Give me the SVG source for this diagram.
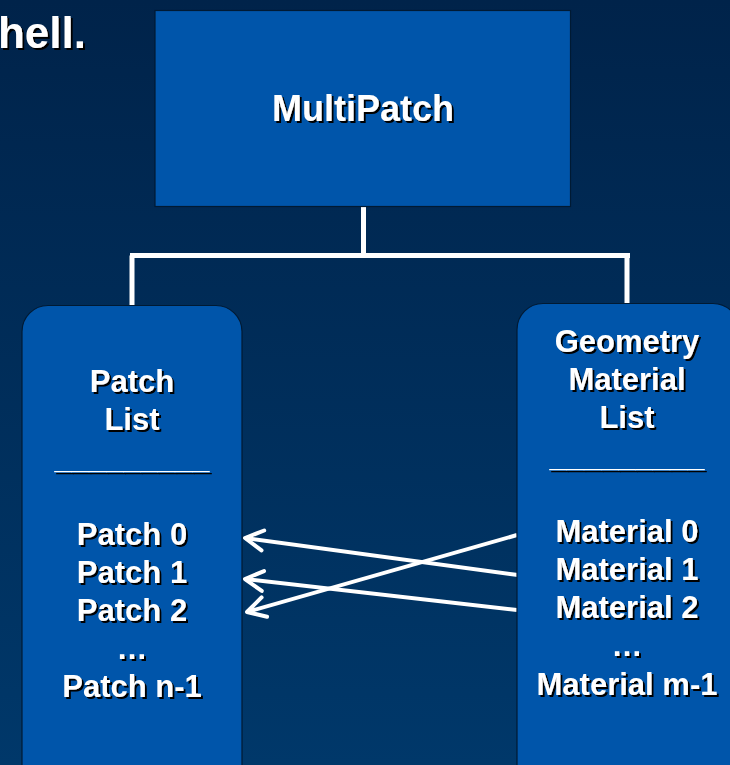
<svg xmlns="http://www.w3.org/2000/svg" width="730" height="765" viewBox="0 0 730 765">
  <defs>
    <linearGradient id="bg" x1="0" y1="0" x2="0" y2="1">
      <stop offset="0" stop-color="#00234A"/>
      <stop offset="1" stop-color="#00386A"/>
    </linearGradient>
    <filter id="sh" x="-10%" y="-10%" width="130%" height="140%">
      <feDropShadow dx="2" dy="2" stdDeviation="0" flood-color="#000" flood-opacity="1"/>
    </filter>
    <marker id="ah" markerUnits="userSpaceOnUse" markerWidth="40" markerHeight="40" viewBox="-25 -20 40 40" refX="0" refY="0" orient="auto" overflow="visible">
      <path d="M-18,-10 L0,0 L-18,10" fill="none" stroke="#fff" stroke-width="4" stroke-linecap="round" stroke-linejoin="round"/>
    </marker>
  </defs>
  <style>
    .node { fill: #0055AA; stroke: #001a33; stroke-width: 1.2; }
    .t { font-family: "Liberation Sans", Arial, sans-serif; font-weight: bold; fill: #fff; text-anchor: middle; filter: url(#sh); }
    .s31 { font-size: 31px; }
    .conn { fill: none; stroke: #fff; stroke-width: 5; }
    .arr { fill: none; stroke: #fff; stroke-width: 4; marker-end: url(#ah); }
  </style>
  <rect x="0" y="0" width="730" height="765" fill="url(#bg)"/>
  <text class="t" x="86" y="48" font-size="44" style="text-anchor:end">hell.</text>

  <g id="connectors">
    <path class="conn" d="M363.5,207 V255.5 M130,255.5 H630 M132,255.5 V306 M627,255.5 V304"/>
    <line class="arr" x1="518" y1="575" x2="245" y2="538"/>
    <line class="arr" x1="517" y1="610" x2="245" y2="579"/>
    <line class="arr" x1="517" y1="535" x2="247" y2="612"/>
  </g>

  <g id="multipatch">
    <rect class="node" x="155" y="10.5" width="415.5" height="196"/>
    <text class="t" x="363" y="121" font-size="36">MultiPatch</text>
  </g>

  <g id="patch-list">
    <rect class="node" x="22" y="305.5" width="220" height="500" rx="26" ry="26"/>
    <text class="t s31" x="132" y="392">Patch</text>
    <text class="t s31" x="132" y="430">List</text>
    <text class="t s31" x="132" y="468">_________</text>
    <text class="t s31" x="132" y="545">Patch 0</text>
    <text class="t s31" x="132" y="583">Patch 1</text>
    <text class="t s31" x="132" y="621">Patch 2</text>
    <text class="t s31" x="132" y="659">…</text>
    <text class="t s31" x="132" y="697">Patch n-1</text>
  </g>

  <g id="geometry-material-list">
    <rect class="node" x="517" y="303.5" width="222" height="500" rx="26" ry="26"/>
    <text class="t s31" x="627" y="352">Geometry</text>
    <text class="t s31" x="627" y="390">Material</text>
    <text class="t s31" x="627" y="428">List</text>
    <text class="t s31" x="627" y="466">_________</text>
    <text class="t s31" x="627" y="542">Material 0</text>
    <text class="t s31" x="627" y="580">Material 1</text>
    <text class="t s31" x="627" y="618">Material 2</text>
    <text class="t s31" x="627" y="656">…</text>
    <text class="t s31" x="627" y="695">Material m-1</text>
  </g>
</svg>
